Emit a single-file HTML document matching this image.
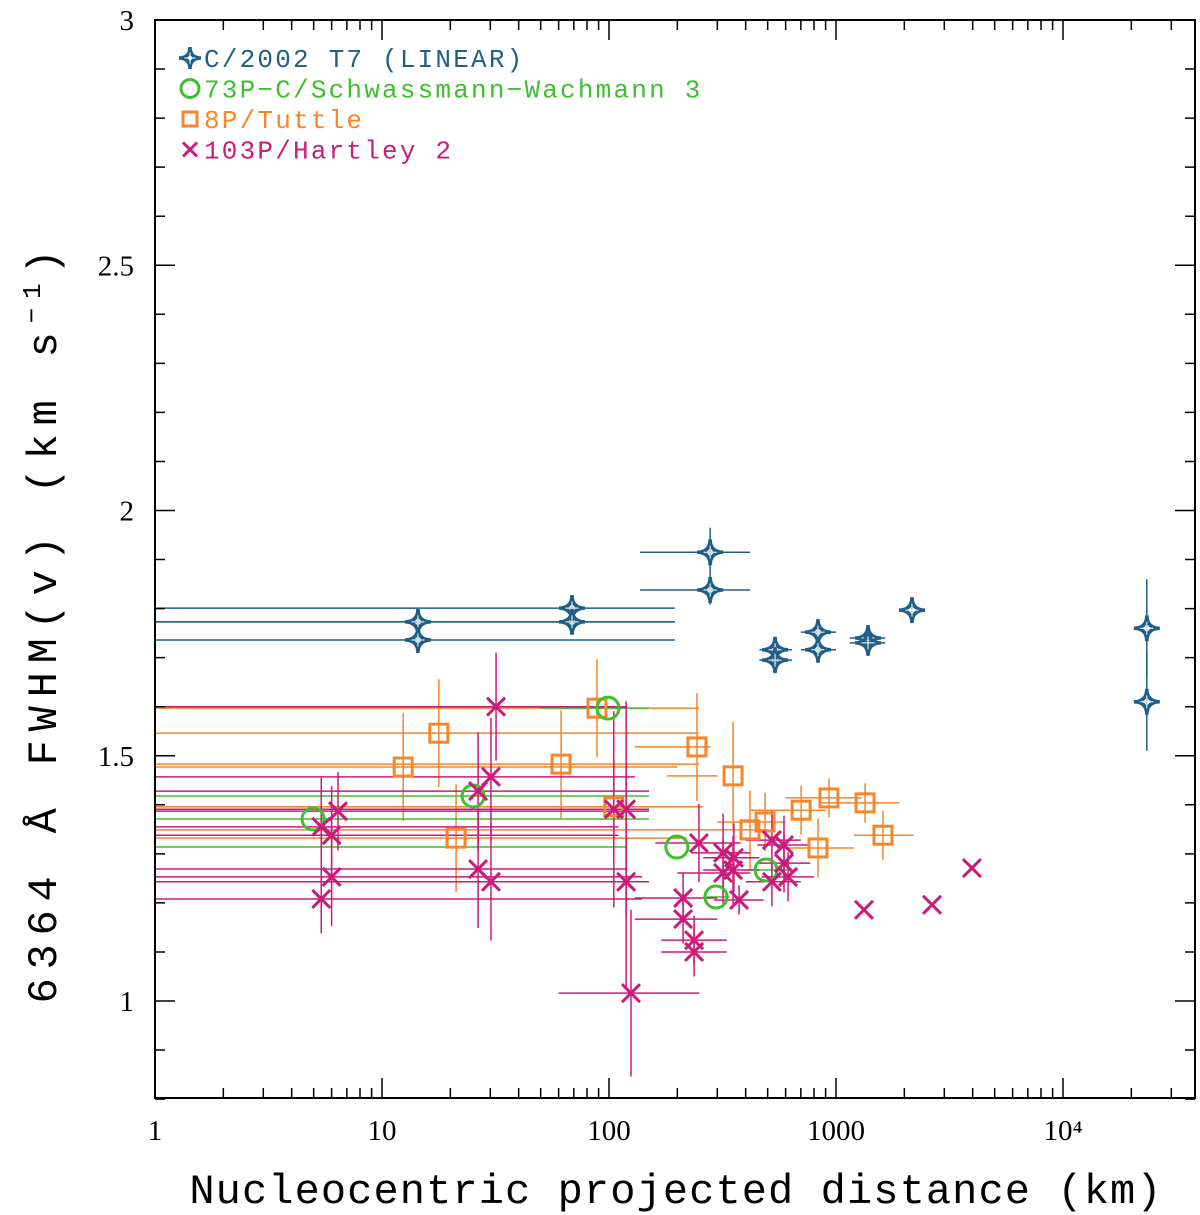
<!DOCTYPE html>
<html><head><meta charset="utf-8"><style>
html,body{margin:0;padding:0;background:#fff;}
svg{display:block;}
</style></head><body>
<svg id="chart" width="1200" height="1215" xmlns="http://www.w3.org/2000/svg">
<defs><clipPath id="plotclip"><rect x="155" y="20" width="1040" height="1078"/></clipPath></defs>
<g id="marks" clip-path="url(#plotclip)"></g>
<g id="axes"></g>
<rect x="155" y="20" width="1040" height="1078" fill="none" stroke="#000" stroke-width="2"/>
<text transform="translate(56,622) rotate(-90)" text-anchor="middle" font-family="Liberation Mono, monospace" font-size="42" letter-spacing="8.8">6364 Å FWHM(v) (km s<tspan dy="-16" font-size="26">−1</tspan><tspan dy="16">)</tspan></text>
<text x="676" y="1203" text-anchor="middle" font-family="Liberation Mono, monospace" font-size="42" letter-spacing="1.1">Nucleocentric projected distance (km)</text>
<g id="legend"></g>
</svg>
<script>
// T7 (LINEAR)
const t7X=[14.4,14.4,68.7,68.7,279,279,539,539,833,833,1384,1384,2161,23400,23400];
const t7Y=[1.773,1.736,1.801,1.773,1.915,1.838,1.716,1.695,1.752,1.716,1.740,1.730,1.797,1.760,1.610];
const t7XLo=[0.5,0.5,0.5,0.5,137,137,460,460,700,700,1150,1150,2161,23400,23400];
const t7XHi=[195,195,195,195,418,418,640,640,1000,1000,1650,1650,2161,23400,23400];
const t7YErr=[0.02,0.02,0.02,0.02,0.05,0.03,0.02,0.02,0.02,0.02,0.02,0.02,0.01,0.1,0.1];
// 73P
const p73X=[4.97,25.2,99,199,296,492];
const p73Y=[1.371,1.418,1.597,1.314,1.212,1.267];
const p73XLo=[0.5,0.5,50,0.5,260,400];
const p73XHi=[150,150,150,120,340,620];
const p73YErr=[0,0,0,0,0,0];
// 8P/Tuttle
const p8X=[12.4,17.8,21.2,61.5,88.5,105,244,352,418,487,702,931,1343,833,1610];
const p8Y=[1.477,1.546,1.332,1.483,1.597,1.396,1.518,1.459,1.349,1.365,1.389,1.414,1.404,1.312,1.338];
const p8XLo=[0.5,0.5,0.5,0.5,0.5,0.5,130,180,0.5,300,420,600,850,560,1200];
const p8XHi=[200,250,220,250,250,260,280,300,500,600,900,1300,1900,1200,2200];
const p8YErr=[0.11,0.11,0.11,0.11,0.1,0.1,0.11,0.11,0.08,0.06,0.05,0.04,0.04,0.06,0.05];
// 103P/Hartley 2
const h2X=[31.8,5.4,6.4,6.0,6.0,5.4,26.5,30.2,26.5,30.2,105,119,119,125,249,318,355,318,352,522,590,590,522,615,374,212,212,237,237,1328,2650,3970];
const h2Y=[1.600,1.355,1.387,1.338,1.253,1.208,1.428,1.457,1.269,1.243,1.391,1.391,1.243,1.016,1.322,1.302,1.292,1.261,1.267,1.328,1.318,1.281,1.243,1.253,1.206,1.210,1.167,1.124,1.100,1.186,1.196,1.271];
const h2XLo=[0.5,0.5,0.5,0.5,0.5,0.5,0.5,0.5,0.5,0.5,0.5,0.5,0.5,60,160,230,260,200,260,400,450,450,400,470,290,130,130,170,170,1328,2650,3970];
const h2XHi=[120,110,150,110,140,140,150,130,120,110,150,130,150,250,380,420,460,420,460,700,770,770,700,800,480,300,300,330,330,1328,2650,3970];
const h2YErr=[0.11,0.1,0.08,0.1,0.1,0.07,0.12,0.12,0.12,0.12,0.2,0.22,0.22,0.17,0.08,0.08,0.07,0.07,0.07,0.06,0.06,0.06,0.05,0.05,0.03,0.05,0.05,0.05,0.05,0,0,0];
const yTicks=[1,1.5,2,2.5,3];
const yTickLabels=["1","1.5","2","2.5","3"];
const xTicks=[1,10,100,1000,10000];
const xTickLabels=["1","10","100","1000","10⁴"];

const NS="http://www.w3.org/2000/svg";
function sx(v){return 155+227*Math.log10(v);}
function sy(v){return 1001-490.5*(v-1);}
function mk(tag,attrs,parent){const e=document.createElementNS(NS,tag);for(const k in attrs)e.setAttribute(k,attrs[k]);parent.appendChild(e);return e;}
const marks=document.getElementById('marks');
const axes=document.getElementById('axes');
const legend=document.getElementById('legend');

function errbars(X,Y,XL,XH,YE,col,name){
  for(let i=0;i<X.length;i++){
    if(XL[i]!==XH[i]){const l=mk('line',{x1:sx(XL[i]),x2:sx(XH[i]),y1:sy(Y[i]),y2:sy(Y[i]),stroke:col,'stroke-width':1.5},marks);
    
    }
    if(YE[i]>0){const l=mk('line',{x1:sx(X[i]),x2:sx(X[i]),y1:sy(Y[i]-YE[i]),y2:sy(Y[i]+YE[i]),stroke:col,'stroke-width':1.5},marks);
    
    }
  }
}
function star(x,y,col,p,r){
  const d=`M${x},${y-r} Q${x},${y} ${x+r},${y} Q${x},${y} ${x},${y+r} Q${x},${y} ${x-r},${y} Q${x},${y} ${x},${y-r}Z`;
  const g=mk('g',{},p);
  mk('path',{d:d,fill:'none',stroke:col,'stroke-width':3.5},g);
  mk('path',{d:`M${x-r*0.5},${y}H${x+r*0.5}M${x},${y-r*0.5}V${y+r*0.5}`,stroke:'#fff','stroke-width':1},g);
  return g;
}
function circ(x,y,col,p,r){return mk('circle',{cx:x,cy:y,r:r,fill:'none',stroke:col,'stroke-width':3},p);}
function sq(x,y,col,p,r){return mk('rect',{x:x-r,y:y-r,width:2*r,height:2*r,fill:'none',stroke:col,'stroke-width':3},p);}
function cross(x,y,col,p,r){return mk('path',{d:`M${x-r},${y-r}L${x+r},${y+r}M${x-r},${y+r}L${x+r},${y-r}`,stroke:col,'stroke-width':3},p);}

const T7C='#1f5f86',GC='#3dbf2e',OC='#f7852a',MC='#cc1a7a';
errbars(p8X,p8Y,p8XLo,p8XHi,p8YErr,OC,'tuttle');
errbars(p73X,p73Y,p73XLo,p73XHi,p73YErr,GC,'swan');
errbars(h2X,h2Y,h2XLo,h2XHi,h2YErr,MC,'hartley');
errbars(t7X,t7Y,t7XLo,t7XHi,t7YErr,T7C,'linear');
for(let i=0;i<p8X.length;i++){const e=sq(sx(p8X[i]),sy(p8Y[i]),OC,marks,9);

}
for(let i=0;i<p73X.length;i++){const e=circ(sx(p73X[i]),sy(p73Y[i]),GC,marks,11);

}
for(let i=0;i<h2X.length;i++){const e=cross(sx(h2X[i]),sy(h2Y[i]),MC,marks,9);

}
for(let i=0;i<t7X.length;i++){const e=star(sx(t7X[i]),sy(t7Y[i]),T7C,marks,13);

}

// axes ticks
for(let d=0;d<5;d++){for(let m=1;m<10;m++){const v=Math.pow(10,d)*m;const x=sx(v);if(x>1195)continue;
 const len=m===1?20:10;
 const t=mk('path',{d:`M${x},1098v${-len}M${x},20v${len}`,stroke:'#000','stroke-width':1.5},axes);
 
 }}
for(let i=0;i<xTicks.length;i++){const t=mk('text',{x:sx(xTicks[i]),y:1140,'text-anchor':'middle','font-family':'Liberation Serif, serif','font-size':29},axes);t.textContent=xTickLabels[i];

}
for(let k=8;k<=30;k++){const v=k/10;const y=sy(v);const len=(k%5===0)?20:10;
 const t=mk('path',{d:`M155,${y}h${len}M1195,${y}h${-len}`,stroke:'#000','stroke-width':1.5},axes);
 
 }
for(let i=0;i<yTicks.length;i++){const t=mk('text',{x:134,y:sy(yTicks[i])+10,'text-anchor':'end','font-family':'Liberation Serif, serif','font-size':29},axes);t.textContent=yTickLabels[i];

}

// legend
const leg=[['C/2002 T7 (LINEAR)',T7C,star],['73P−C/Schwassmann−Wachmann 3',GC,circ],['8P/Tuttle',OC,sq],['103P/Hartley 2',MC,cross]];
leg.forEach((L,i)=>{const y=58+i*30.5;
 const m=L[2](190,y,L[1],legend,L[2]===star?11:(L[2]===circ?9:7));
 
 
 const t=mk('text',{x:204,y:y+9,'font-family':'Liberation Mono, monospace','font-size':26,'letter-spacing':2.2,fill:L[1]},legend);t.textContent=L[0];
 
 });
</script>
</body></html>
